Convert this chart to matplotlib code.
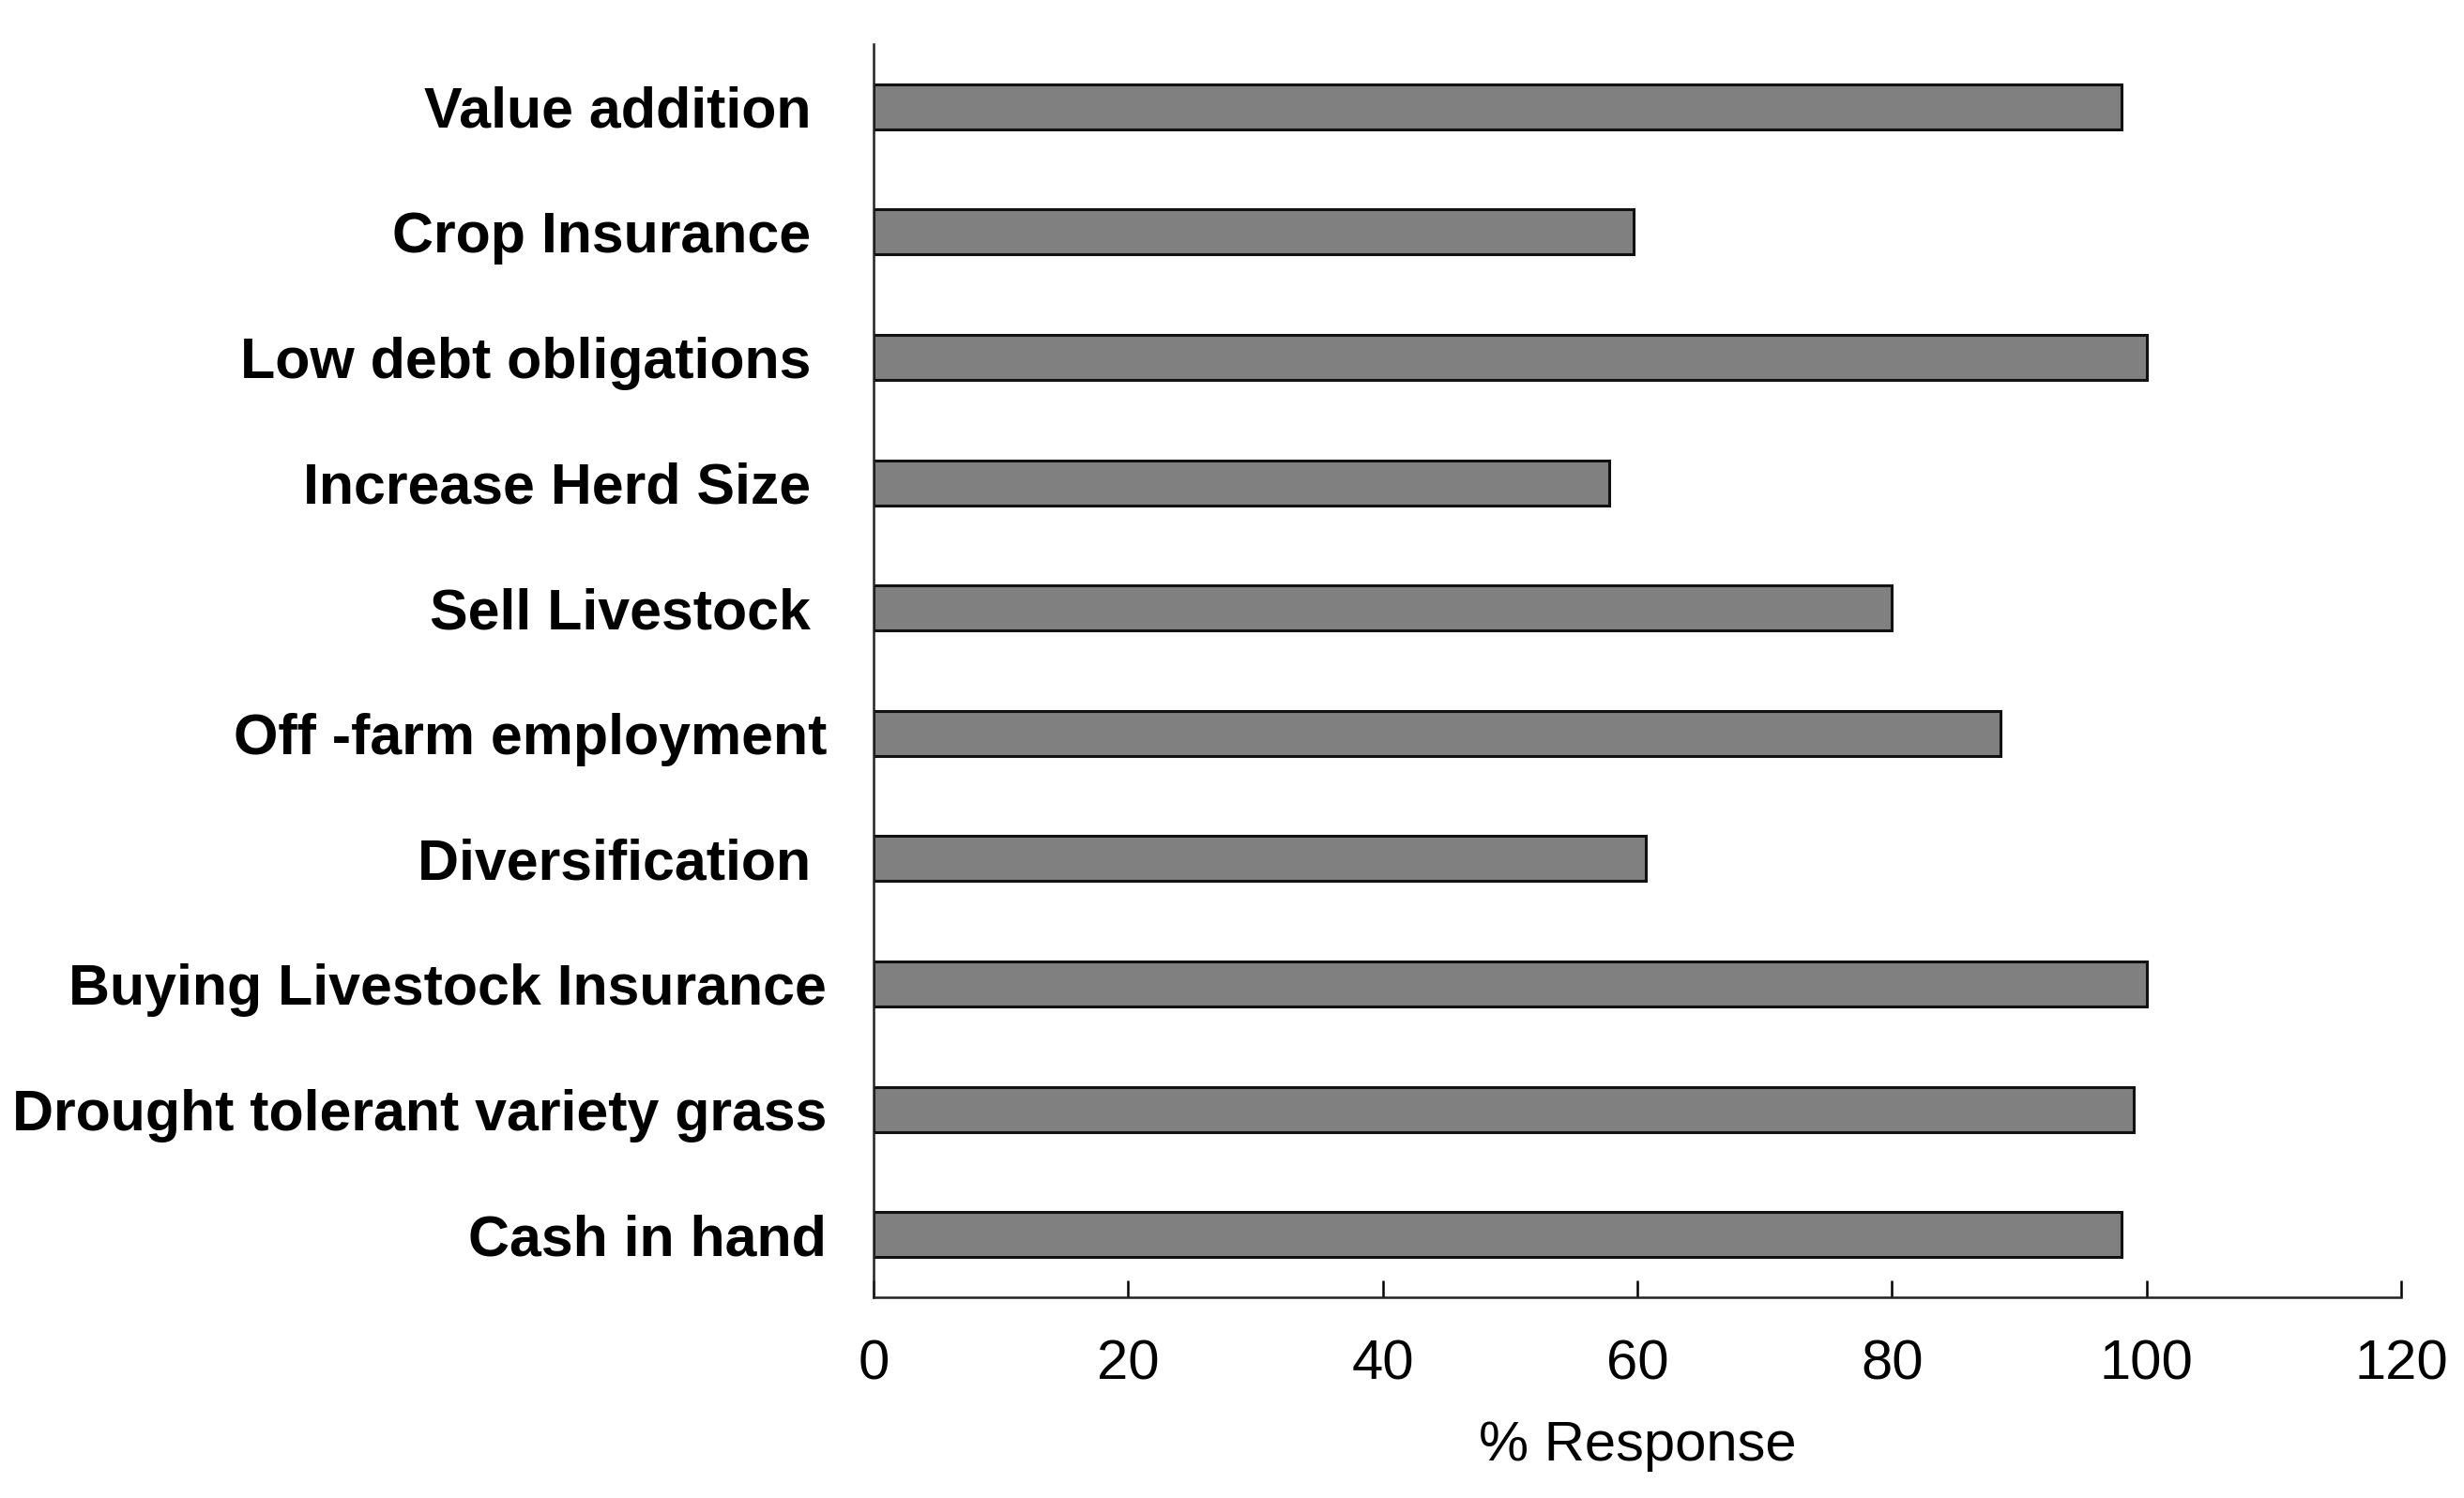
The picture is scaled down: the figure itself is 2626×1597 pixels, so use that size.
import numpy as np
import matplotlib
matplotlib.use("Agg")
import matplotlib.pyplot as plt

# data (top to bottom as shown)
categories = [
    "Value addition ",
    "Crop Insurance ",
    "Low debt obligations ",
    "Increase Herd Size ",
    "Sell Livestock ",
    "Off -farm employment",
    "Diversification ",
    "Buying Livestock Insurance",
    "Drought tolerant variety grass",
    "Cash in hand",
]
response = [98, 59.7, 100, 57.8, 80, 88.5, 60.7, 100, 99, 98]
x_ticks = [0, 20, 40, 60, 80, 100, 120]

plt.rcParams["font.family"] = ["Liberation Sans", "DejaVu Sans"]

fig = plt.figure(figsize=(26.26, 15.97), dpi=100)
ax = fig.add_axes([0.3545, 0.134, 0.62, 0.8366])

y_pos = np.arange(len(categories))[::-1]
ax.barh(y_pos, response, height=0.36, color="#808080",
        edgecolor="#111111", linewidth=2.2)

ax.set_xlim(0, 120)
ax.set_ylim(-0.5, 9.5)
ax.set_xticks(x_ticks)
ax.set_xticklabels([str(t) for t in x_ticks], fontsize=43)
ax.set_yticks(y_pos)
ax.set_yticklabels(categories, fontsize=43.8, fontweight="bold")

ax.tick_params(axis="x", direction="in", length=13, width=1.8, pad=32)
ax.tick_params(axis="y", length=0, pad=36)

ax.set_xlabel("% Response", fontsize=43, labelpad=23)

for side in ["top", "right"]:
    ax.spines[side].set_visible(False)
for side in ["left", "bottom"]:
    ax.spines[side].set_linewidth(1.8)
    ax.spines[side].set_color("#222222")

plt.savefig("out.png", dpi=100)
